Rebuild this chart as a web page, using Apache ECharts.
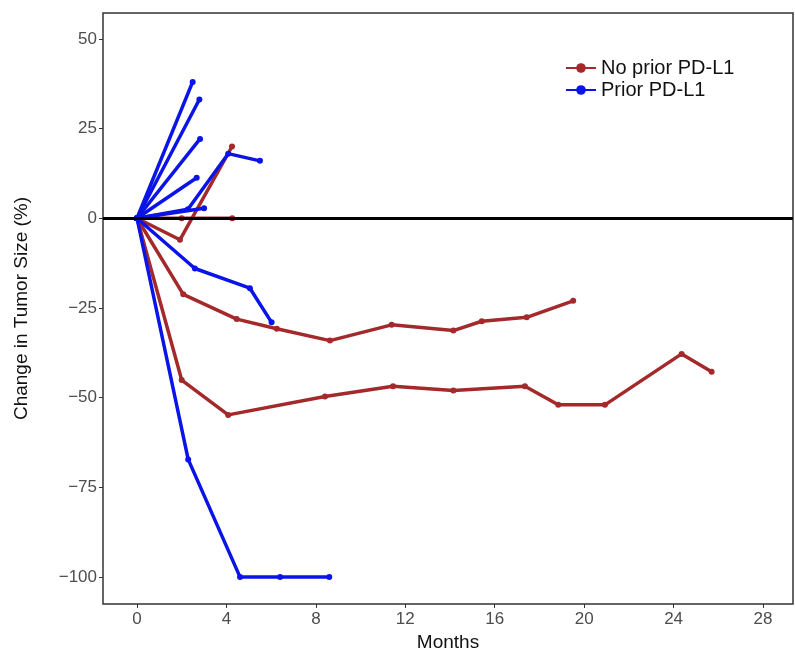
<!DOCTYPE html>
<html>
<head>
<meta charset="utf-8">
<script src="https://cdn.jsdelivr.net/npm/echarts@6/dist/echarts.min.js"></script>
<style>html,body{margin:0;padding:0;background:#fff;}#c{width:795px;height:657px;}</style>
</head>
<body>
<div id="c"></div>
<script>
// Tick labels
var xTicks = [0, 4, 8, 12, 16, 20, 24, 28];
var yTicks = [-100, -75, -50, -25, 0, 25, 50];

// No prior PD-L1 patients: [month, % change]
var noPrior1 = [[0, 0], [1.92, -6], [4.25, 20]];
var noPrior2 = [[0, 0], [2.0, 0], [4.26, 0]];
var noPrior3 = [[0, 0], [2.07, -21.2], [4.46, -28.1], [6.25, -30.8], [8.63, -34.1], [11.39, -29.7], [14.15, -31.3], [15.42, -28.7], [17.43, -27.6], [19.51, -23]];
var noPrior4 = [[0, 0], [2.0, -45.1], [4.08, -54.8], [8.41, -49.7], [11.45, -46.8], [14.15, -48], [17.35, -46.8], [18.84, -52], [20.93, -52], [24.36, -37.8], [25.7, -42.8]];

// Prior PD-L1 patients
var prior1 = [[0, 0], [2.49, 38]];
var prior2 = [[0, 0], [2.79, 33.1]];
var prior3 = [[0, 0], [2.82, 22.1]];
var prior4 = [[0, 0], [2.67, 11.3]];
var prior5 = [[0, 0], [3.0, 2.8]];
var prior6 = [[0, 0], [2.28, 2.5], [4.08, 18], [5.5, 16]];
var prior7 = [[0, 0], [2.59, -14], [5.05, -19.5], [6.02, -29]];
var prior8 = [[0, 0], [2.29, -67.2], [4.61, -100], [6.4, -100], [8.6, -100]];

var RED = '#a3292b';
var BLUE = '#0a14e6';
var NAME_RED = 'No prior PD-L1';
var NAME_BLUE = 'Prior PD-L1';

function mk(name, color, data, z) {
  return {
    type: 'line', name: name, data: data, z: z,
    symbol: 'circle', symbolSize: 6, showSymbol: true,
    itemStyle: {color: color},
    lineStyle: {color: color, width: 3.5},
    emphasis: {disabled: true}, animation: false
  };
}

var series = [];
[noPrior1, noPrior2, noPrior3, noPrior4].forEach(function (d) { series.push(mk(NAME_RED, RED, d, 2)); });
[prior1, prior2, prior3, prior4, prior5, prior6, prior7, prior8].forEach(function (d) { series.push(mk(NAME_BLUE, BLUE, d, 3)); });
series.push({
  type: 'line', data: [], z: 5, silent: true,
  markLine: {
    silent: true, symbol: ['none', 'none'], animation: false,
    label: {show: false},
    lineStyle: {color: '#000', width: 3, type: 'solid'},
    data: [{yAxis: 0}]
  }
});

function fmt(v) { return String(v).replace('-', '\u2212'); }

var FONT = '"Liberation Sans", Arial, sans-serif';
var chart = echarts.init(document.getElementById('c'), null, {renderer: 'canvas'});
chart.setOption({
  animation: false,
  backgroundColor: '#fff',
  grid: {left: 103, right: 2, top: 13, bottom: 48, show: true, borderColor: '#333', borderWidth: 1.5, backgroundColor: 'transparent'},
  legend: {
    data: [NAME_RED, NAME_BLUE],
    left: 560, top: 53, orient: 'vertical', itemGap: 2,
    itemWidth: 30, itemHeight: 12,
    textStyle: {fontFamily: FONT, fontSize: 20, color: '#111'}
  },
  xAxis: {
    type: 'value', min: -1.52, max: 29.34,
    name: 'Months', nameLocation: 'middle', nameGap: 29,
    nameTextStyle: {fontFamily: FONT, fontSize: 19, color: '#111'},
    axisLine: {show: false, onZero: false},
    splitLine: {show: false},
    axisTick: {show: true, length: 4, lineStyle: {color: '#333'}, customValues: xTicks},
    axisLabel: {fontFamily: FONT, fontSize: 17, color: '#4d4d4d', margin: 7, customValues: xTicks}
  },
  yAxis: {
    type: 'value', min: -107.5, max: 57.2,
    name: 'Change in Tumor Size (%)', nameLocation: 'middle', nameGap: 72, nameRotate: 90,
    nameTextStyle: {fontFamily: FONT, fontSize: 19, color: '#111'},
    axisLine: {show: false, onZero: false},
    splitLine: {show: false},
    axisTick: {show: true, length: 4, lineStyle: {color: '#333'}, customValues: yTicks},
    axisLabel: {fontFamily: FONT, fontSize: 17, color: '#4d4d4d', margin: 6, customValues: yTicks, formatter: fmt}
  },
  series: series
});
</script>
</body>
</html>
